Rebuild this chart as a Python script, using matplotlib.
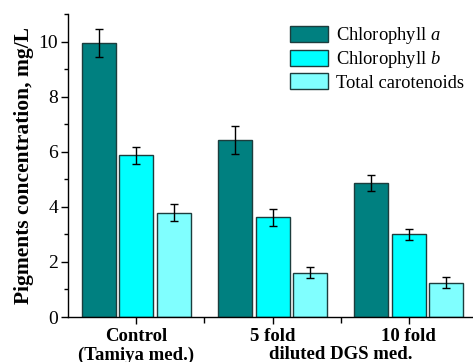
import numpy as np
import matplotlib
matplotlib.use('Agg')
import matplotlib.pyplot as plt
from matplotlib.ticker import MultipleLocator, FixedLocator

plt.rcParams['font.family'] = ['Liberation Serif', 'DejaVu Serif']
plt.rcParams['mathtext.fontset'] = 'custom'
plt.rcParams['mathtext.it'] = 'Liberation Serif:italic'
plt.rcParams['mathtext.rm'] = 'Liberation Serif'

# data
groups = ['Control\n(Tamiya med.)', '5 fold', '10 fold']
chl_a = [9.95, 6.42, 4.87]
chl_a_err = [0.5, 0.5, 0.3]
chl_b = [5.87, 3.62, 3.01]
chl_b_err = [0.3, 0.3, 0.2]
carot = [3.79, 1.61, 1.24]
carot_err = [0.3, 0.2, 0.2]
series_names = ['Chlorophyll $a$', 'Chlorophyll $b$', 'Total carotenoids']
colors = ['#008080', '#00FFFF', '#80FFFF']

fig = plt.figure(figsize=(4.73, 3.62), dpi=100)
ax = fig.add_axes([68/473, 45/362, 405/473, 303/362])

x = np.arange(len(groups))
w = 0.25
step = 0.275
for i, (vals, errs) in enumerate([(chl_a, chl_a_err), (chl_b, chl_b_err), (carot, carot_err)]):
    ax.bar(x + (i - 1) * step, vals, width=w, color=colors[i], edgecolor='#1c3d3d',
           linewidth=1.0, label=series_names[i], zorder=2)
    ax.errorbar(x + (i - 1) * step, vals, yerr=errs, fmt='none', ecolor='black',
                elinewidth=1.0, capsize=3, capthick=1.0, zorder=3)

ax.set_xlim(-0.5, 2.47)
ax.set_ylim(0, 11)
ax.yaxis.set_major_locator(MultipleLocator(2))
ax.yaxis.set_minor_locator(MultipleLocator(1))
ax.xaxis.set_minor_locator(FixedLocator([0.5, 1.5]))
ax.set_xticks(x)
ax.set_xticklabels(groups, fontweight='bold', fontsize=13.5, linespacing=1.1)
ax.tick_params(axis='y', labelsize=14, direction='out', length=5, width=1, pad=2)
ax.tick_params(axis='y', which='minor', length=3, width=1)
ax.tick_params(axis='x', direction='out', length=5, width=1, pad=3)
ax.tick_params(axis='x', which='minor', length=4, width=1)
for s in ['top', 'right']:
    ax.spines[s].set_visible(False)
for s in ['left', 'bottom']:
    ax.spines[s].set_linewidth(1.0)

ax.set_ylabel('Pigments concentration, mg/L', fontweight='bold', fontsize=15.5, labelpad=3)
ax.text(1.5, -0.095, 'diluted DGS med.', transform=ax.get_xaxis_transform(),
        ha='center', va='top', fontweight='bold', fontsize=13.5)

ax.legend(loc='upper left', bbox_to_anchor=(290/473, 1 - 25/362), bbox_transform=fig.transFigure,
          frameon=False, fontsize=13.3, handlelength=2.05, handleheight=0.95,
          handletextpad=0.45, labelspacing=0.17, borderaxespad=0, borderpad=0)

fig.savefig('out.png', dpi=100)
